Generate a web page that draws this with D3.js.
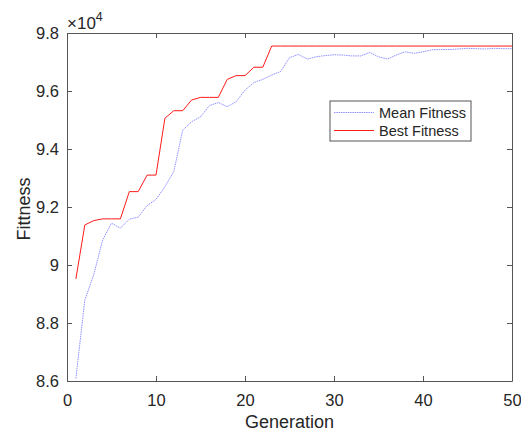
<!DOCTYPE html>
<html>
<head>
<meta charset="utf-8">
<script src="https://cdn.jsdelivr.net/npm/d3@7"></script>
<style>
  body { margin: 0; background: #fff; }
  text { font-family: "Liberation Sans", Arial, sans-serif; fill: #262626; }
</style>
</head>
<body>
<div id="chart"></div>
<script>
// values in units of 1e4
const generations = d3.range(1, 51);
const bestFitness = [
  8.952, 9.138, 9.153, 9.159, 9.159, 9.159, 9.253, 9.253, 9.310, 9.310,
  9.506, 9.532, 9.532, 9.569, 9.578, 9.578, 9.578, 9.640, 9.653, 9.653,
  9.682, 9.682, 9.755, 9.755, 9.755, 9.755, 9.755, 9.755, 9.755, 9.755,
  9.755, 9.755, 9.755, 9.755, 9.755, 9.755, 9.755, 9.755, 9.755, 9.755,
  9.755, 9.755, 9.755, 9.755, 9.755, 9.755, 9.755, 9.755, 9.755, 9.755
];
const meanFitness = [
  8.609, 8.879, 8.966, 9.086, 9.144, 9.127, 9.158, 9.165, 9.205, 9.226,
  9.270, 9.322, 9.465, 9.494, 9.511, 9.550, 9.560, 9.546, 9.563, 9.603,
  9.629, 9.640, 9.655, 9.667, 9.715, 9.726, 9.710, 9.718, 9.722, 9.725,
  9.724, 9.721, 9.721, 9.733, 9.718, 9.710, 9.724, 9.735, 9.730, 9.735,
  9.742, 9.743, 9.743, 9.745, 9.747, 9.746, 9.745, 9.747, 9.746, 9.746
];
const xTicks = [0, 10, 20, 30, 40, 50];
const yTicks = [8.6, 8.8, 9.0, 9.2, 9.4, 9.6, 9.8];
const seriesNames = ['Mean Fitness', 'Best Fitness'];

const W = 521, H = 431;
const margin = { top: 33, right: 9, bottom: 50, left: 67 };
const width = W - margin.left - margin.right;
const height = H - margin.top - margin.bottom;
const axisColor = '#555';

const svg = d3.select('#chart').append('svg')
  .attr('width', W)
  .attr('height', H);

const g = svg.append('g')
  .attr('transform', `translate(${margin.left},${margin.top})`);

const x = d3.scaleLinear().domain([0, 50]).range([0, width]);
const y = d3.scaleLinear().domain([8.6, 9.8]).range([height, 0]);

// data lines
const line = d3.line()
  .x((d, i) => x(generations[i]))
  .y(d => y(d));

g.append('path')
  .datum(meanFitness)
  .attr('fill', 'none')
  .attr('stroke', '#7474ff')
  .attr('stroke-width', 0.8)
  .attr('stroke-dasharray', '1.5,0.8')
  .attr('d', line);

g.append('path')
  .datum(bestFitness)
  .attr('fill', 'none')
  .attr('stroke', '#ff1a1a')
  .attr('stroke-width', 1)
  .attr('d', line);

// axes (ticks pointing inward, box style)
const xAxis = g.append('g')
  .attr('transform', `translate(0,${height})`)
  .call(d3.axisBottom(x).tickValues(xTicks).tickSizeInner(-5).tickSizeOuter(0).tickPadding(13));
const yAxis = g.append('g')
  .call(d3.axisLeft(y).tickValues(yTicks).tickFormat(d => d === 9 ? '9' : d3.format('.1f')(d))
    .tickSizeInner(-5).tickSizeOuter(0).tickPadding(8));
const xTop = g.append('g')
  .call(d3.axisTop(x).tickValues(xTicks).tickSizeInner(-5).tickSizeOuter(0).tickFormat(''));
const yRight = g.append('g')
  .attr('transform', `translate(${width},0)`)
  .call(d3.axisRight(y).tickValues(yTicks).tickSizeInner(-5).tickSizeOuter(0).tickFormat(''));

[xAxis, yAxis, xTop, yRight].forEach(a => {
  a.selectAll('path, line').attr('stroke', axisColor);
  a.selectAll('text').style('font-size', '16.5px').attr('fill', '#262626');
});

// axis labels
g.append('text')
  .attr('x', width / 2)
  .attr('y', height + 47)
  .attr('text-anchor', 'middle')
  .style('font-size', '18px')
  .text('Generation');

g.append('text')
  .attr('transform', `translate(${-37},${height / 2 + 2}) rotate(-90)`)
  .attr('text-anchor', 'middle')
  .style('font-size', '18px')
  .text('Fittness');

// exponent label
const expo = svg.append('text')
  .attr('x', margin.left)
  .attr('y', 29)
  .style('font-size', '17px');
expo.append('tspan').text('\u00d710');
expo.append('tspan').attr('dy', -8).style('font-size', '12.5px').text('4');

// legend
const legend = svg.append('g').attr('transform', 'translate(330,101)');
legend.append('rect')
  .attr('width', 141)
  .attr('height', 40)
  .attr('fill', '#fff')
  .attr('stroke', '#555')
  .attr('stroke-width', 1);

const legendStyles = [
  { stroke: '#7474ff', dash: '1.5,0.8', width: 0.8 },
  { stroke: '#ff1a1a', dash: null, width: 1 }
];
seriesNames.forEach((name, i) => {
  const row = legend.append('g').attr('transform', `translate(0,${11.5 + i * 18})`);
  row.append('line')
    .attr('x1', 4).attr('x2', 44)
    .attr('stroke', legendStyles[i].stroke)
    .attr('stroke-width', legendStyles[i].width)
    .attr('stroke-dasharray', legendStyles[i].dash);
  row.append('text')
    .attr('x', 49)
    .attr('dy', '0.35em')
    .style('font-size', '14.5px')
    .attr('fill', '#000')
    .text(name);
});
</script>
</body>
</html>
